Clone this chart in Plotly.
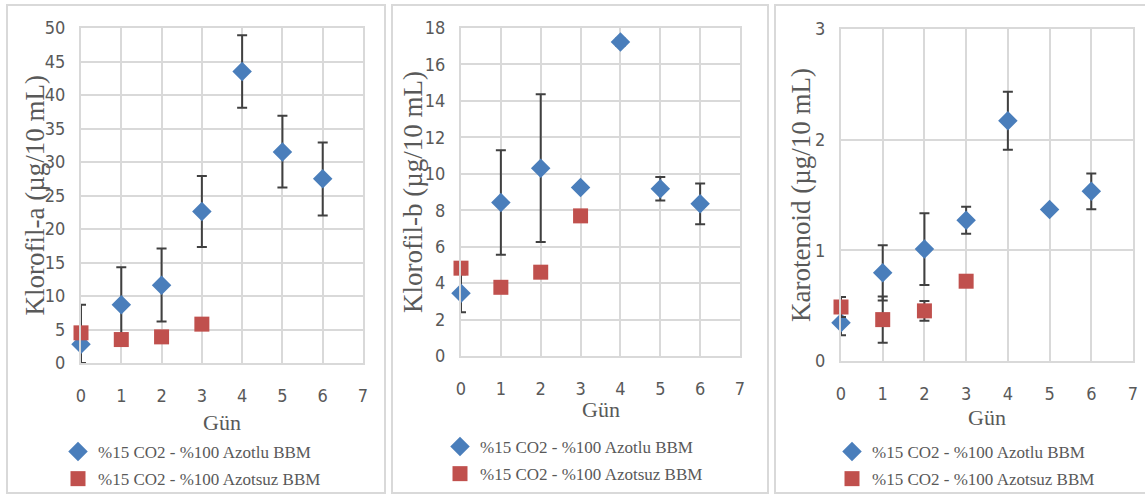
import plotly.graph_objects as go

W, H = 1145, 495

days = [0, 1, 2, 3, 4, 5, 6]
days_n = [0, 1, 2, 3]

# Klorofil-a
kla_azotlu = [2.8, 8.7, 11.6, 22.6, 43.5, 31.5, 27.5]
kla_azotlu_ep = [5.9, 5.6, 5.5, 5.3, 5.4, 5.4, 5.4]
kla_azotlu_em = [2.8, 5.6, 5.4, 5.3, 5.4, 5.3, 5.5]
kla_azotsuz = [4.5, 3.5, 3.9, 5.8]
kla_azotsuz_e = [0.3, 0.3, 0.3, 0.3]

# Klorofil-b
klb_azotlu = [3.44, 8.42, 10.31, 9.25, 17.23, 9.18, 8.35]
klb_azotlu_e = [1.04, 2.87, 4.05, 0.15, 0.2, 0.65, 1.12]
klb_azotsuz = [4.82, 3.77, 4.6, 7.69]
klb_azotsuz_e = [0.1, 0.1, 0.1, 0.1]

# Karotenoid
kar_azotlu = [0.345, 0.797, 1.011, 1.271, 2.17, 1.37, 1.533]
kar_azotlu_e = [0.113, 0.25, 0.325, 0.122, 0.262, 0.02, 0.161]
kar_azotsuz = [0.488, 0.374, 0.453, 0.721]
kar_azotsuz_e = [0.09, 0.208, 0.09, 0.02]

y_titles = ["Klorofil-a (µg/10 mL)", "Klorofil-b (µg/10 mL)", "Karotenoid (µg/10 mL)"]
x_title = "Gün"
leg1 = "%15 CO2 - %100 Azotlu BBM"
leg2 = "%15 CO2 - %100 Azotsuz BBM"

BLUE = "#4A7EBB"
RED = "#C0504D"
ERR = "#404040"
GRID = "#D9D9D9"
TXT = "#595959"
SERIF = "Liberation Serif, Times New Roman, serif"
NARROW = "Liberation Sans Narrow, DejaVu Sans Condensed, Roboto, sans-serif"

def px_x(p):
    return p / W

def px_y(p):
    return 1 - p / H

# plot areas in pixels: (left, right, top, bottom)
areas = [(81, 363, 28, 363), (461, 740, 28, 356), (841, 1133, 29, 361)]
yranges = [[0, 50], [0, 18], [0, 3]]
ydticks = [5, 2, 1]
ytitle_x = [34, 413, 801]
xtitle_y = [422, 409, 417]
legend_pos = [(58, 434), (440, 429), (832, 434)]
panels = [(7, 385), (392, 768), (775, 1150)]

series = [
    (kla_azotlu, dict(type="data", array=kla_azotlu_ep, arrayminus=kla_azotlu_em, symmetric=False),
     kla_azotsuz, dict(type="data", array=kla_azotsuz_e)),
    (klb_azotlu, dict(type="data", array=klb_azotlu_e),
     klb_azotsuz, dict(type="data", array=klb_azotsuz_e)),
    (kar_azotlu, dict(type="data", array=kar_azotlu_e),
     kar_azotsuz, dict(type="data", array=kar_azotsuz_e)),
]

fig = go.Figure()
layout = dict(
    width=W, height=H, margin=dict(l=0, r=0, t=0, b=0, autoexpand=False),
    paper_bgcolor="white", plot_bgcolor="white",
    showlegend=True, shapes=[], annotations=[],
)

for i in range(3):
    sfx = "" if i == 0 else str(i + 1)
    xa, ya = "x" + sfx, "y" + sfx
    lg = "legend" + sfx
    yb, eb, yr, er = series[i]
    for e in (eb, er):
        e.update(color=ERR, thickness=2, width=5)
    fig.add_trace(go.Scatter(
        x=days, y=yb, mode="markers", name=leg1, xaxis=xa, yaxis=ya,
        legend=lg, legendgroup=f"a{i}", cliponaxis=False,
        marker=dict(symbol="diamond", size=15, color=BLUE),
        error_y=eb,
    ))
    fig.add_trace(go.Scatter(
        x=days_n, y=yr, mode="markers", name=leg2, xaxis=xa, yaxis=ya,
        legend=lg, legendgroup=f"b{i}", cliponaxis=False,
        marker=dict(symbol="square", size=15, color=RED),
        error_y=er,
    ))
    l, r, t, b = areas[i]
    layout["xaxis" + sfx] = dict(
        domain=[px_x(l), px_x(r)], range=[0, 7], dtick=1, anchor=ya,
        showgrid=True, gridcolor=GRID, gridwidth=2,
        showline=True, mirror=True, linecolor=GRID, linewidth=2,
        zeroline=False, ticks="outside", ticklen=15, tickcolor="rgba(0,0,0,0)",
        tickfont=dict(family=NARROW, size=18, color=TXT),
    )
    layout["yaxis" + sfx] = dict(
        domain=[px_y(b), px_y(t)], range=yranges[i], dtick=ydticks[i], anchor=xa,
        showgrid=True, gridcolor=GRID, gridwidth=2,
        showline=True, mirror=True, linecolor=GRID, linewidth=2,
        zeroline=False, ticks="outside", ticklen=10, tickcolor="rgba(0,0,0,0)",
        tickfont=dict(family=NARROW, size=18, color=TXT),
    )
    lx, ly = legend_pos[i]
    layout[lg] = dict(
        x=px_x(lx), y=px_y(ly), xanchor="left", yanchor="top",
        xref="paper", yref="paper", bgcolor="rgba(0,0,0,0)",
        font=dict(family=SERIF, size=17, color=TXT),
        tracegroupgap=2, itemwidth=30,
    )
    layout["annotations"].append(dict(
        text=y_titles[i], textangle=-90, xref="paper", yref="paper",
        x=px_x(ytitle_x[i]), y=px_y((t + b) / 2), showarrow=False,
        xanchor="center", yanchor="middle",
        font=dict(family=SERIF, size=27, color=TXT),
    ))
    layout["annotations"].append(dict(
        text=x_title, xref="paper", yref="paper",
        x=px_x((l + r) / 2), y=px_y(xtitle_y[i]), showarrow=False,
        xanchor="center", yanchor="middle",
        font=dict(family=SERIF, size=22, color=TXT),
    ))
    pl, pr = panels[i]
    layout["shapes"].append(dict(
        type="rect", xref="paper", yref="paper",
        x0=px_x(pl), x1=px_x(pr), y0=px_y(493), y1=px_y(5),
        line=dict(color=GRID, width=2), fillcolor="rgba(0,0,0,0)", layer="below",
    ))

fig.update_layout(**layout)
fig.write_html("out.html")
